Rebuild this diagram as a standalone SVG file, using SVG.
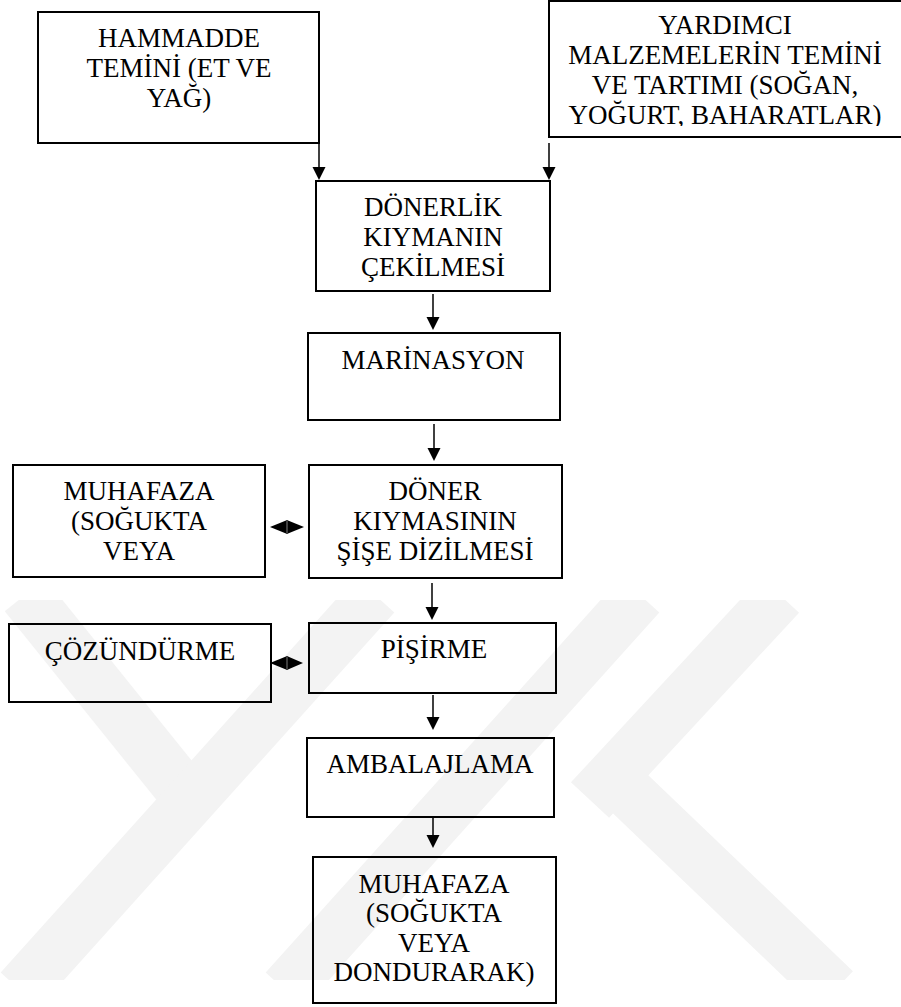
<svg xmlns="http://www.w3.org/2000/svg" width="901" height="1007" viewBox="0 0 901 1007" font-family="Liberation Serif, Times New Roman, serif">
<style>
.box{fill:none;stroke:#000;stroke-width:2}
.t{font-size:27px;fill:#000;text-anchor:middle}
.ln{stroke:#000;stroke-width:1.5;fill:none}
.wm{stroke:#f3f3f3;stroke-width:52;fill:none;stroke-linecap:butt}
</style>
<defs>
<clipPath id="wmclip"><rect x="0" y="600" width="901" height="380"/></clipPath>
<clipPath id="yclip"><rect x="540" y="0" width="361" height="126"/></clipPath>
</defs>
<rect width="901" height="1007" fill="#fff"/>
<g id="watermark" clip-path="url(#wmclip)">
<line class="wm" x1="25" y1="595" x2="190" y2="800"/>
<line class="wm" x1="375" y1="595" x2="20" y2="990"/>
<line class="wm" x1="640" y1="595" x2="285" y2="990"/>
<line class="wm" x1="780" y1="595" x2="590" y2="800"/>
<line class="wm" x1="600" y1="765" x2="835" y2="990"/>
</g>
<g id="connectors">
<line class="ln" x1="319" y1="144" x2="319" y2="167"/><path d="M312.5,167 L325.5,167 L319,180 Z"/>
<line class="ln" x1="549" y1="143" x2="549" y2="167"/><path d="M542.5,167 L555.5,167 L549,180 Z"/>
<line class="ln" x1="433" y1="294" x2="433" y2="317"/><path d="M426.5,317 L439.5,317 L433,330 Z"/>
<line class="ln" x1="434" y1="424" x2="434" y2="448"/><path d="M427.5,448 L440.5,448 L434,461 Z"/>
<line class="ln" x1="432" y1="583" x2="432" y2="607"/><path d="M425.5,607 L438.5,607 L432,620 Z"/>
<line class="ln" x1="433" y1="695" x2="433" y2="717"/><path d="M426.5,717 L439.5,717 L433,730 Z"/>
<line class="ln" x1="433" y1="817" x2="433" y2="835"/><path d="M426.5,835 L439.5,835 L433,848 Z"/>
<path d="M270,527 L286,520.5 L286,533.5 Z"/><path d="M304,527 L288,520.5 L288,533.5 Z"/><line class="ln" x1="287" y1="520" x2="287" y2="534"/>
<path d="M270,663 L286,656.5 L286,669.5 Z"/><path d="M303,663 L288,656.5 L288,669.5 Z"/><line class="ln" x1="287" y1="656" x2="287" y2="670"/>
</g>
<g id="hammadde">
<rect class="box" x="38" y="12" width="281" height="131"/>
<text class="t" x="179" y="47">HAMMADDE</text>
<text class="t" x="179" y="77">TEMİNİ (ET VE</text>
<text class="t" x="179" y="107">YAĞ)</text>
</g>
<g id="yardimci">
<rect class="box" x="549" y="1" width="400" height="136"/>
<g clip-path="url(#yclip)">
<text class="t" x="725" y="34">YARDIMCI</text>
<text class="t" x="725" y="64">MALZEMELERİN TEMİNİ</text>
<text class="t" x="725" y="94">VE TARTIMI (SOĞAN,</text>
<text class="t" x="725" y="124">YOĞURT, BAHARATLAR)</text>
</g>
</g>
<g id="donerlik">
<rect class="box" x="316" y="181" width="234" height="110"/>
<text class="t" x="433" y="216">DÖNERLİK</text>
<text class="t" x="433" y="246">KIYMANIN</text>
<text class="t" x="433" y="276">ÇEKİLMESİ</text>
</g>
<g id="marinasyon">
<rect class="box" x="308" y="333" width="252" height="87"/>
<text class="t" x="433" y="369">MARİNASYON</text>
</g>
<g id="muhafaza1">
<rect class="box" x="13" y="465" width="252" height="112"/>
<text class="t" x="139" y="500">MUHAFAZA</text>
<text class="t" x="139" y="530">(SOĞUKTA</text>
<text class="t" x="139" y="560">VEYA</text>
</g>
<g id="doner">
<rect class="box" x="309" y="465" width="253" height="113"/>
<text class="t" x="435" y="500">DÖNER</text>
<text class="t" x="435" y="530">KIYMASININ</text>
<text class="t" x="435" y="560">ŞİŞE DİZİLMESİ</text>
</g>
<g id="cozundurme">
<rect class="box" x="9" y="624" width="262" height="78"/>
<text class="t" x="140" y="660">ÇÖZÜNDÜRME</text>
</g>
<g id="pisirme">
<rect class="box" x="309" y="623" width="247" height="70"/>
<text class="t" x="434" y="658">PİŞİRME</text>
</g>
<g id="ambalajlama">
<rect class="box" x="307" y="738" width="247" height="79"/>
<text class="t" x="430" y="773">AMBALAJLAMA</text>
</g>
<g id="muhafaza2">
<rect class="box" x="313" y="857" width="243" height="146"/>
<text class="t" x="434" y="893">MUHAFAZA</text>
<text class="t" x="434" y="922">(SOĞUKTA</text>
<text class="t" x="434" y="952">VEYA</text>
<text class="t" x="434" y="981">DONDURARAK)</text>
</g>
</svg>
